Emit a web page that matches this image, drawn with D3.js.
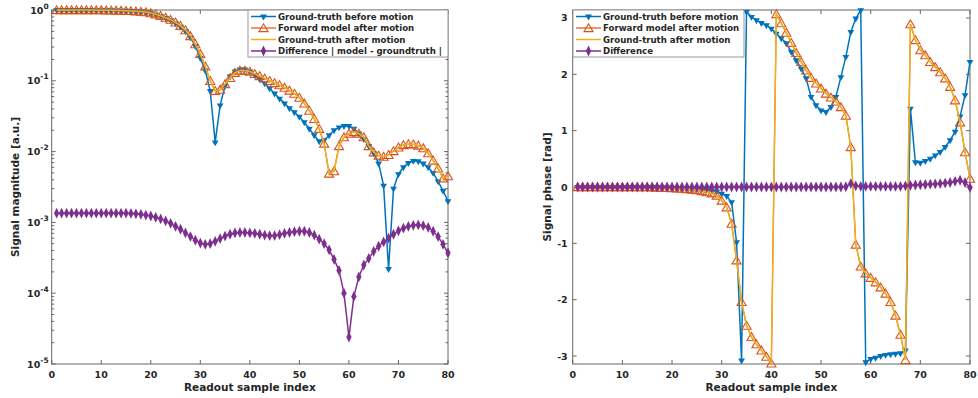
<!DOCTYPE html>
<html>
<head>
<meta charset="utf-8">
<script src="https://cdn.jsdelivr.net/npm/d3@7"></script>
<style>
  body { margin: 0; background: #fff; }
  svg text { font-family: "DejaVu Sans", sans-serif; font-weight: bold; fill: #262626; }
</style>
</head>
<body>
<div id="chart"></div>
<script>
// readout sample index (1..80)
const sampleIdx = d3.range(1, 81);

// ---- magnitude panel ----
const magBefore = [
  1.0, 1.0, 1.0, 1.0, 1.0, 1.0, 1.0, 1.0, 0.995, 0.995,
  0.99, 0.99, 0.985, 0.98, 0.975, 0.97, 0.96, 0.95, 0.93, 0.9,
  0.86, 0.82, 0.77, 0.72, 0.65, 0.58, 0.5, 0.41, 0.31, 0.21,
  0.14, 0.072, 0.0135, 0.045, 0.085, 0.115, 0.135, 0.145, 0.145, 0.135,
  0.12, 0.105, 0.092, 0.078, 0.066, 0.056, 0.048, 0.041, 0.036, 0.031,
  0.026, 0.021, 0.017, 0.014, 0.0145, 0.017, 0.02, 0.022, 0.023, 0.023,
  0.021, 0.018, 0.015, 0.012, 0.0095, 0.0068, 0.0033, 0.00022, 0.003, 0.0048,
  0.006, 0.0069, 0.0074, 0.0073, 0.0068, 0.006, 0.005, 0.0038, 0.0028, 0.002
];
const magModel = [
  1.0, 1.0, 1.0, 1.0, 1.0, 1.0, 1.0, 1.0, 0.995, 0.995,
  0.99, 0.99, 0.985, 0.98, 0.975, 0.97, 0.96, 0.95, 0.935, 0.905,
  0.87, 0.83, 0.78, 0.73, 0.67, 0.6, 0.52, 0.43, 0.33, 0.24,
  0.16, 0.1, 0.072, 0.075, 0.09, 0.11, 0.13, 0.14, 0.14, 0.135,
  0.125, 0.117, 0.108, 0.1, 0.093, 0.087, 0.08, 0.073, 0.066, 0.058,
  0.048, 0.038, 0.029, 0.021, 0.013, 0.0049, 0.0053, 0.012, 0.016, 0.018,
  0.019, 0.018, 0.016, 0.012, 0.0098, 0.0088, 0.0085, 0.009, 0.0102, 0.0115,
  0.0124, 0.0128, 0.0127, 0.0122, 0.0112, 0.0095, 0.0075, 0.0058, 0.0042, 0.0045
];
const magAfter = [
  1.0, 1.0, 1.0, 1.0, 1.0, 1.0, 1.0, 1.0, 0.995, 0.995,
  0.99, 0.99, 0.985, 0.98, 0.975, 0.97, 0.96, 0.95, 0.935, 0.905,
  0.87, 0.83, 0.78, 0.73, 0.67, 0.6, 0.52, 0.43, 0.33, 0.24,
  0.16, 0.1, 0.072, 0.075, 0.09, 0.11, 0.13, 0.14, 0.14, 0.135,
  0.125, 0.117, 0.108, 0.1, 0.093, 0.087, 0.08, 0.073, 0.066, 0.058,
  0.048, 0.038, 0.029, 0.021, 0.013, 0.0049, 0.0053, 0.012, 0.016, 0.018,
  0.019, 0.018, 0.016, 0.012, 0.0098, 0.0088, 0.0085, 0.009, 0.0102, 0.0115,
  0.0124, 0.0128, 0.0127, 0.0122, 0.0112, 0.0095, 0.0075, 0.0058, 0.0042, 0.0045
];
const magDiff = [
  0.00135, 0.00135, 0.00135, 0.00135, 0.00135, 0.00135, 0.00135, 0.00135, 0.00135, 0.00135,
  0.00135, 0.00135, 0.00135, 0.00135, 0.00135, 0.00134, 0.00132, 0.0013, 0.00127, 0.00123,
  0.00118, 0.00112, 0.00105, 0.00097, 0.00088, 0.0008, 0.00071, 0.00063, 0.00056, 0.00051,
  0.00049, 0.0005, 0.00054, 0.00059, 0.00064, 0.00068, 0.00071, 0.00072, 0.00072, 0.00071,
  0.0007, 0.00068, 0.00066, 0.00065, 0.00065, 0.00067, 0.0007, 0.00072, 0.00074, 0.00075,
  0.00075, 0.00072, 0.00066, 0.00058, 0.0005, 0.00041, 0.0003, 0.00021, 0.0001, 0.000024,
  0.00009, 0.00017, 0.00025, 0.00031, 0.00039, 0.00046, 0.00053, 0.0006, 0.00068, 0.00076,
  0.00083, 0.00088, 0.00091, 0.00092, 0.0009, 0.00085, 0.00075, 0.00063, 0.00049, 0.00037
];

// ---- phase panel ----
const phaseBefore = [
  0, 0, 0, 0, 0, 0, 0, 0, 0, 0,
  0, 0, 0, 0, 0, -0.005, -0.005, -0.01, -0.01, -0.015,
  -0.02, -0.02, -0.025, -0.03, -0.035, -0.04, -0.05, -0.06, -0.08, -0.12,
  -0.16, -0.27, -0.98, -3.08, 3.11, 3.02, 2.96, 2.91, 2.87, 2.81,
  2.72, 2.64, 2.55, 2.40, 2.25, 2.10, 1.93, 1.60, 1.45, 1.36,
  1.33, 1.42, 1.60, 1.95, 2.31, 2.75, 2.99, 3.14, -3.11, -3.05,
  -3.03, -3.0, -2.98, -2.97, -2.96, -2.95, -2.9, 1.39, 0.44, 0.43,
  0.46, 0.5, 0.56, 0.62, 0.71, 0.83, 0.98, 1.25, 1.63, 2.22
];
const phaseModel = [
  0, 0, 0, 0, 0, 0, 0, 0, 0, 0,
  0, 0, 0, 0, 0, -0.005, -0.008, -0.01, -0.015, -0.02,
  -0.025, -0.03, -0.035, -0.045, -0.055, -0.07, -0.09, -0.11, -0.15, -0.24,
  -0.36, -0.65, -1.30, -2.04, -2.46, -2.66, -2.79, -2.9, -3.01, -3.13,
  3.07, 2.91, 2.74, 2.56, 2.38, 2.22, 2.07, 1.94, 1.84, 1.75,
  1.66, 1.59, 1.52, 1.42, 1.27, 0.71, -1.02, -1.41, -1.53, -1.61,
  -1.69, -1.78, -1.89, -2.04, -2.28, -2.62, -3.07, 2.89, 2.61, 2.43,
  2.34, 2.22, 2.13, 2.04, 1.93, 1.78, 1.54, 1.15, 0.62, 0.15
];
const phaseAfter = [
  0, 0, 0, 0, 0, 0, 0, 0, 0, 0,
  0, 0, 0, 0, 0, -0.005, -0.008, -0.01, -0.015, -0.02,
  -0.025, -0.03, -0.035, -0.045, -0.055, -0.07, -0.09, -0.11, -0.15, -0.24,
  -0.36, -0.65, -1.30, -2.04, -2.46, -2.66, -2.79, -2.9, -3.01, -3.13,
  3.07, 2.91, 2.74, 2.56, 2.38, 2.22, 2.07, 1.94, 1.84, 1.75,
  1.66, 1.59, 1.52, 1.42, 1.27, 0.71, -1.02, -1.41, -1.53, -1.61,
  -1.69, -1.78, -1.89, -2.04, -2.28, -2.62, -3.07, 2.89, 2.61, 2.43,
  2.34, 2.22, 2.13, 2.04, 1.93, 1.78, 1.54, 1.15, 0.62, 0.15
];
const phaseDiff = [
  0, 0, 0, 0, 0, 0, 0, 0, 0, 0,
  0, 0, 0, 0, 0, 0, 0, 0, 0, 0,
  0, 0, 0, 0, 0, 0, 0, 0, 0, 0,
  0, 0, 0, 0, 0, 0, 0, 0, 0, 0,
  0, 0, 0, 0, 0, 0, 0, 0, 0, 0,
  0, 0, 0, 0, 0.005, 0.06, 0.02, 0.01, 0.01, 0.01,
  0.01, 0.01, 0.01, 0.01, 0.01, 0.01, 0.02, 0.03, 0.035, 0.04,
  0.045, 0.05, 0.055, 0.06, 0.07, 0.08, 0.1, 0.12, 0.08, -0.01
];

const xTicks = [0, 10, 20, 30, 40, 50, 60, 70, 80];
const magTicks = [1e-5, 1e-4, 1e-3, 1e-2, 1e-1, 1];
const phaseTicks = [-3, -2, -1, 0, 1, 2, 3];

const magLegend = ["Ground-truth before motion", "Forward model after motion",
                   "Ground-truth after motion", "Difference | model - groundtruth |"];
const phaseLegend = ["Ground-truth before motion", "Forward model after motion",
                     "Ground-truth after motion", "Difference"];

const colors = { blue: "#0072BD", orange: "#D95319", yellow: "#EDB120", purple: "#7E2F8E" };

const svg = d3.select("#chart").append("svg")
    .attr("width", 978)
    .attr("height", 398);

function drawMarker(g, kind, x, y) {
    if (kind === "down") {
        g.append("path")
            .attr("d", d3.symbol().type(d3.symbolTriangle).size(20)())
            .attr("transform", `translate(${x},${y}) rotate(180)`)
            .attr("fill", colors.blue);
    } else if (kind === "up") {
        g.append("path")
            .attr("d", d3.symbol().type(d3.symbolTriangle).size(36)())
            .attr("transform", `translate(${x},${y + 1})`)
            .attr("fill", "none")
            .attr("stroke", colors.orange)
            .attr("stroke-width", 1.1);
    } else if (kind === "diamond") {
        g.append("path")
            .attr("d", d3.symbol().type(d3.symbolDiamond).size(20)())
            .attr("transform", `translate(${x},${y}) scale(1.1,1.3)`)
            .attr("fill", colors.purple);
    }
}

function createPanel(opts) {
    const x = d3.scaleLinear().domain([0, 80]).range([opts.left, opts.right]);
    const y = opts.log
        ? d3.scaleLog().domain([1e-5, 1]).range([opts.bottom, opts.top])
        : d3.scaleLinear().domain([-Math.PI, Math.PI]).range([opts.bottom, opts.top]);

    const g = svg.append("g");
    const axisColor = "#666";

    // box
    g.append("rect")
        .attr("x", opts.left).attr("y", opts.top)
        .attr("width", opts.right - opts.left).attr("height", opts.bottom - opts.top)
        .attr("fill", "none").attr("stroke", axisColor).attr("stroke-width", 1);

    // x ticks (inside, bottom & top)
    xTicks.forEach(t => {
        const px = x(t);
        g.append("line").attr("x1", px).attr("x2", px)
            .attr("y1", opts.bottom).attr("y2", opts.bottom - 4)
            .attr("stroke", axisColor);
        g.append("line").attr("x1", px).attr("x2", px)
            .attr("y1", opts.top).attr("y2", opts.top + 4)
            .attr("stroke", axisColor);
        g.append("text")
            .attr("x", px).attr("y", opts.bottom + 14)
            .attr("text-anchor", "middle")
            .attr("font-size", "9.5px")
            .text(t);
    });

    // y ticks
    if (opts.log) {
        // minor ticks
        y.ticks().forEach(t => {
            const py = y(t);
            const major = magTicks.some(m => Math.abs(m - t) / m < 1e-6);
            const len = major ? 4 : 2.5;
            g.append("line").attr("x1", opts.left).attr("x2", opts.left + len)
                .attr("y1", py).attr("y2", py).attr("stroke", axisColor);
            g.append("line").attr("x1", opts.right).attr("x2", opts.right - len)
                .attr("y1", py).attr("y2", py).attr("stroke", axisColor);
        });
        magTicks.forEach(t => {
            const lbl = g.append("text")
                .attr("x", opts.left - 3).attr("y", y(t) + 3.5)
                .attr("text-anchor", "end")
                .attr("font-size", "9.5px");
            lbl.append("tspan").text("10");
            lbl.append("tspan").attr("dy", -5).attr("font-size", "7.5px")
                .text(Math.round(Math.log10(t)));
        });
    } else {
        phaseTicks.forEach(t => {
            const py = y(t);
            g.append("line").attr("x1", opts.left).attr("x2", opts.left + 4)
                .attr("y1", py).attr("y2", py).attr("stroke", axisColor);
            g.append("line").attr("x1", opts.right).attr("x2", opts.right - 4)
                .attr("y1", py).attr("y2", py).attr("stroke", axisColor);
            g.append("text")
                .attr("x", opts.left - 5).attr("y", py + 3.5)
                .attr("text-anchor", "end")
                .attr("font-size", "9.5px")
                .text(t);
        });
    }

    // axis labels
    g.append("text")
        .attr("x", (opts.left + opts.right) / 2).attr("y", opts.bottom + 27)
        .attr("text-anchor", "middle")
        .attr("font-size", "10.5px")
        .text("Readout sample index");
    g.append("text")
        .attr("transform", `translate(${opts.ylabelX},${(opts.top + opts.bottom) / 2}) rotate(-90)`)
        .attr("text-anchor", "middle")
        .attr("font-size", "10.5px")
        .text(opts.ylabel);

    // series, in plotting order
    const line = d3.line().x((d, i) => x(sampleIdx[i])).y(d => y(d));
    const series = [
        { values: opts.before, color: colors.blue, width: 1.5, marker: "down" },
        { values: opts.model, color: colors.orange, width: 1.2, marker: "up" },
        { values: opts.after, color: colors.yellow, width: 1.5, marker: null },
        { values: opts.diff, color: colors.purple, width: 1.5, marker: "diamond" }
    ];
    series.forEach(s => {
        g.append("path")
            .attr("d", line(s.values))
            .attr("fill", "none")
            .attr("stroke", s.color)
            .attr("stroke-width", s.width);
        if (s.marker) {
            s.values.forEach((v, i) => drawMarker(g, s.marker, x(sampleIdx[i]), y(v)));
        }
    });

    // legend
    const lg = g.append("g");
    lg.append("rect")
        .attr("x", opts.legendX).attr("y", opts.top)
        .attr("width", opts.legendW).attr("height", 47)
        .attr("fill", "#fff").attr("stroke", "#999");
    opts.legend.forEach((name, i) => {
        const ly = opts.top + 6.5 + i * 11.5;
        const lx0 = opts.legendX + 3, lx1 = opts.legendX + 28;
        const s = series[i];
        lg.append("line").attr("x1", lx0).attr("x2", lx1)
            .attr("y1", ly).attr("y2", ly)
            .attr("stroke", s.color).attr("stroke-width", s.width);
        if (s.marker) drawMarker(lg, s.marker, (lx0 + lx1) / 2, ly);
        lg.append("text")
            .attr("x", lx1 + 2).attr("y", ly + 3.2)
            .attr("font-size", "8.6px")
            .text(name);
    });
}

createPanel({
    left: 51.7, right: 448, top: 10, bottom: 364,
    log: true,
    ylabel: "Signal magnitude [a.u.]", ylabelX: 19,
    before: magBefore, model: magModel, after: magAfter, diff: magDiff,
    legend: magLegend, legendX: 248, legendW: 200
});

createPanel({
    left: 572.7, right: 970, top: 10, bottom: 364,
    log: false,
    ylabel: "Signal phase [rad]", ylabelX: 551,
    before: phaseBefore, model: phaseModel, after: phaseAfter, diff: phaseDiff,
    legend: phaseLegend, legendX: 573, legendW: 171
});
</script>
</body>
</html>
